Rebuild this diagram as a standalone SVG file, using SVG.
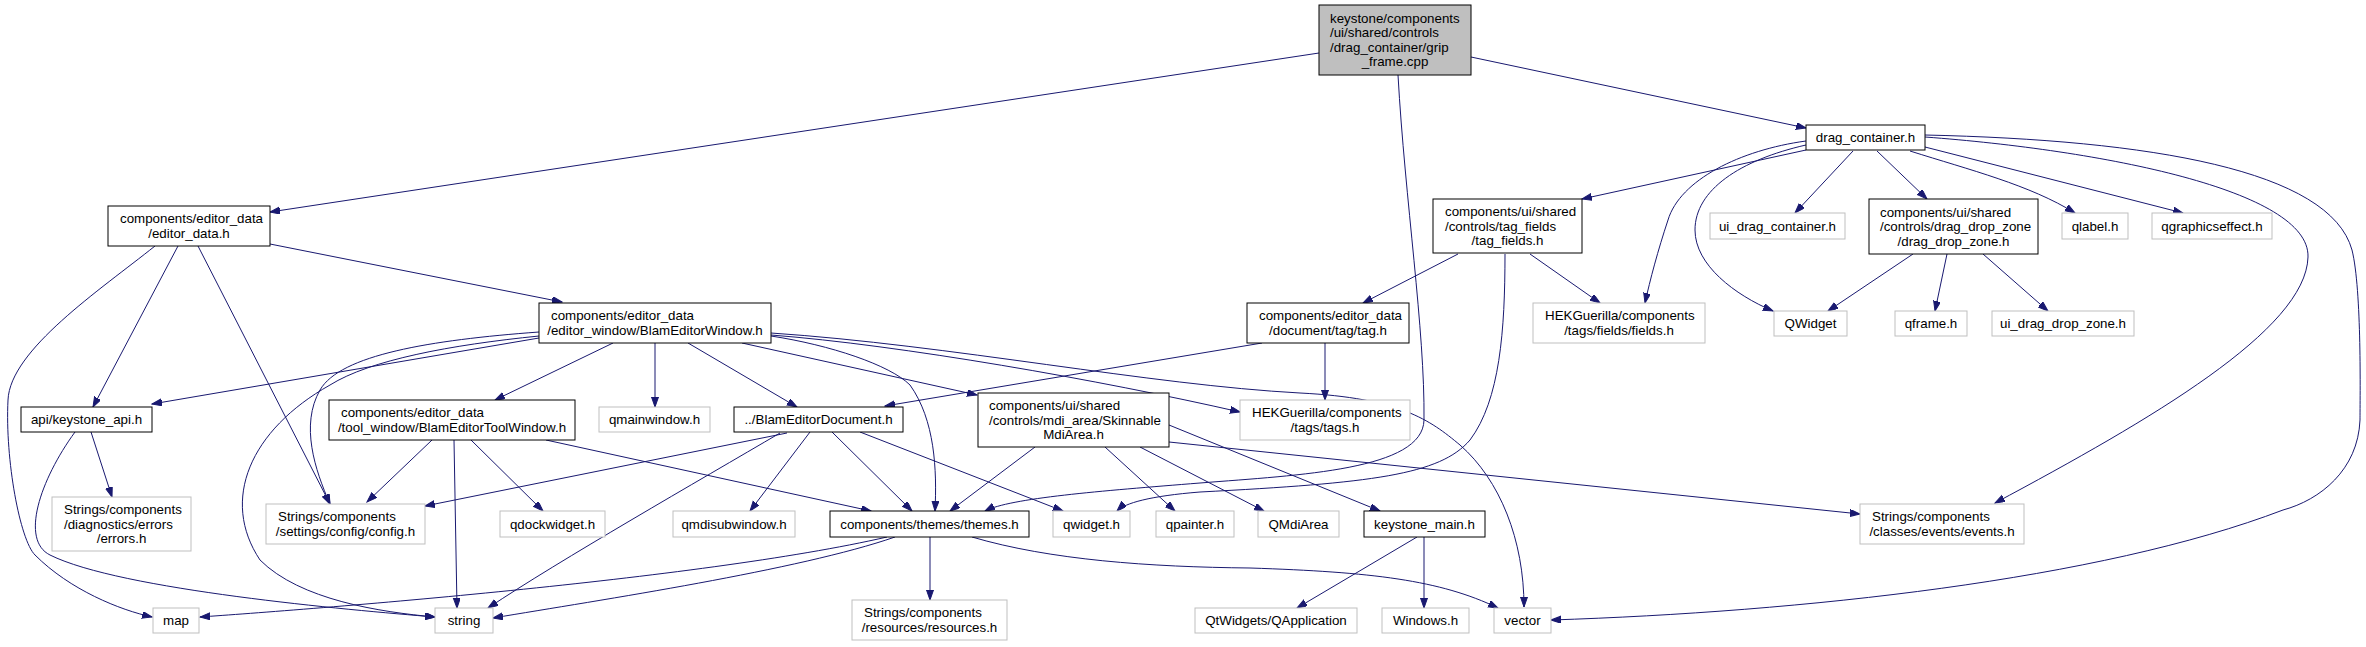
<svg xmlns="http://www.w3.org/2000/svg" width="2366" height="647" viewBox="0 0 2366 647">
<style>
text{font-family:"Liberation Sans",Arial,sans-serif;font-size:13.33px;fill:#000}
.b{fill:#fff;stroke:#000;stroke-width:1}
.g{fill:#fff;stroke:#bfbfbf;stroke-width:1}
.r{fill:#bfbfbf;stroke:#000;stroke-width:1}
.c{text-anchor:middle}
#edges path{fill:none;stroke:#191970;stroke-width:1;marker-end:url(#ah)}
</style>
<defs>
<marker id="ah" markerUnits="userSpaceOnUse" markerWidth="11" markerHeight="8" refX="10" refY="3.5" orient="auto">
<path d="M0,0 L10,3.5 L0,7 z" fill="#191970" stroke="#191970" stroke-width="1"/>
</marker>
</defs>
<rect width="2366" height="647" fill="#fff"/>
<g id="edges">
<path d="M1319,53 L270,212"/>
<path d="M1471,57 L1806,128"/>
<path d="M1398,75 C1405,200 1425,330 1424,420 C1423,470 1300,475 1200,483 C1100,491 1010,498 985,511"/>
<path d="M270,244 L562,302"/>
<path d="M178,246 L93,407"/>
<path d="M198,246 L330,504"/>
<path d="M155,246 C100,290 10,350 8,400 C5,460 20,540 35,555 C70,590 120,610 152,617"/>
<path d="M539,338 L152,404"/>
<path d="M539,332 C430,340 340,355 320,390 C300,425 315,470 330,504"/>
<path d="M539,336 C450,345 370,360 330,385 C250,430 220,500 260,560 C300,600 380,612 435,617"/>
<path d="M613,343 L495,400"/>
<path d="M655,343 L655,407"/>
<path d="M688,343 L797,407"/>
<path d="M742,343 L977,395"/>
<path d="M771,336 C830,345 890,365 910,385 C935,420 937,470 935,511"/>
<path d="M771,335 C900,345 1100,380 1240,412"/>
<path d="M771,333 C950,345 1150,385 1300,393 C1400,398 1430,420 1460,445 C1500,480 1524,540 1524,607"/>
<path d="M91,432 L112,497"/>
<path d="M75,432 C40,480 20,540 50,555 C120,590 350,610 435,617"/>
<path d="M432,440 L367,502"/>
<path d="M454,440 L457,608"/>
<path d="M471,440 L543,511"/>
<path d="M546,440 L871,511"/>
<path d="M787,433 L425,506"/>
<path d="M780,433 C700,480 560,560 488,608"/>
<path d="M810,432 L750,511"/>
<path d="M832,432 L912,511"/>
<path d="M860,432 L1063,511"/>
<path d="M1035,447 L950,511"/>
<path d="M1105,447 L1175,511"/>
<path d="M1140,447 L1264,511"/>
<path d="M1169,425 L1380,511"/>
<path d="M1169,442 L1860,514"/>
<path d="M1262,343 L885,406"/>
<path d="M1325,343 L1325,400"/>
<path d="M1458,254 L1363,303"/>
<path d="M1530,254 L1600,303"/>
<path d="M1505,254 C1505,330 1500,400 1470,440 C1440,475 1372,483 1200,492 C1150,496 1125,503 1117,511"/>
<path d="M1806,150 L1582,199"/>
<path d="M1806,141 C1740,150 1680,180 1668,220 C1658,250 1650,280 1645,303"/>
<path d="M1806,145 C1740,160 1695,190 1695,230 C1695,265 1735,295 1773,311"/>
<path d="M1853,151 L1795,213"/>
<path d="M1877,151 L1927,199"/>
<path d="M1910,151 C1970,170 2030,185 2075,213"/>
<path d="M1925,147 L2183,213"/>
<path d="M1925,137 C2100,150 2310,190 2308,257 C2306,330 2150,420 1995,503"/>
<path d="M1925,135 C2150,140 2330,170 2352,250 C2362,290 2360,400 2360,420 C2358,470 2320,500 2283,510 C2100,580 1800,612 1551,620"/>
<path d="M1913,254 L1828,311"/>
<path d="M1947,254 L1935,311"/>
<path d="M1983,254 L2048,311"/>
<path d="M887,537 C700,580 300,610 200,617"/>
<path d="M895,537 C800,570 600,600 493,618"/>
<path d="M930,537 L930,600"/>
<path d="M972,537 C1050,560 1150,567 1250,568 C1372,572 1440,580 1498,608"/>
<path d="M1417,537 L1297,608"/>
<path d="M1424,537 L1424,608"/>
</g>
<g id="root"><rect class="r" x="1319" y="5" width="152" height="70"/><text x="1330" y="22.75">keystone/components</text><text x="1330" y="37.25">/ui/shared/controls</text><text x="1330" y="51.75">/drag_container/grip</text><text class="c" x="1395" y="66.25">_frame.cpp</text></g>
<g id="drag_container"><rect class="b" x="1806" y="125" width="119" height="25"/><text class="c" x="1865.5" y="142">drag_container.h</text></g>
<g id="editor_data"><rect class="b" x="108" y="206" width="162" height="40"/><text x="120" y="223.25">components/editor_data</text><text class="c" x="189" y="237.75">/editor_data.h</text></g>
<g id="BlamEditorWindow"><rect class="b" x="539" y="303" width="232" height="40"/><text x="551" y="320.25">components/editor_data</text><text class="c" x="655" y="334.75">/editor_window/BlamEditorWindow.h</text></g>
<g id="tag_fields"><rect class="b" x="1433" y="199" width="149" height="54"/><text x="1445" y="216">components/ui/shared</text><text x="1445" y="230.5">/controls/tag_fields</text><text class="c" x="1507.5" y="245">/tag_fields.h</text></g>
<g id="ui_drag_container"><rect class="g" x="1710" y="213" width="135" height="26"/><text class="c" x="1777.5" y="230.5">ui_drag_container.h</text></g>
<g id="drag_drop_zone"><rect class="b" x="1869" y="199" width="169" height="55"/><text x="1880" y="216.5">components/ui/shared</text><text x="1880" y="231">/controls/drag_drop_zone</text><text class="c" x="1953.5" y="245.5">/drag_drop_zone.h</text></g>
<g id="qlabel"><rect class="g" x="2062" y="213" width="66" height="26"/><text class="c" x="2095" y="230.5">qlabel.h</text></g>
<g id="qgraphicseffect"><rect class="g" x="2152" y="213" width="120" height="26"/><text class="c" x="2212" y="230.5">qgraphicseffect.h</text></g>
<g id="fields"><rect class="g" x="1533" y="303" width="172" height="40"/><text x="1545" y="320.25">HEKGuerilla/components</text><text class="c" x="1619" y="334.75">/tags/fields/fields.h</text></g>
<g id="QWidget"><rect class="g" x="1774" y="311" width="73" height="25"/><text class="c" x="1810.5" y="328">QWidget</text></g>
<g id="qframe"><rect class="g" x="1895" y="311" width="72" height="25"/><text class="c" x="1931" y="328">qframe.h</text></g>
<g id="ui_drag_drop_zone"><rect class="g" x="1992" y="311" width="142" height="25"/><text class="c" x="2063" y="328">ui_drag_drop_zone.h</text></g>
<g id="tag"><rect class="b" x="1247" y="303" width="162" height="40"/><text x="1259" y="320.25">components/editor_data</text><text class="c" x="1328" y="334.75">/document/tag/tag.h</text></g>
<g id="tags"><rect class="g" x="1240" y="400" width="170" height="40"/><text x="1252" y="417.25">HEKGuerilla/components</text><text class="c" x="1325" y="431.75">/tags/tags.h</text></g>
<g id="keystone_api"><rect class="b" x="21" y="407" width="131" height="25"/><text class="c" x="86.5" y="424">api/keystone_api.h</text></g>
<g id="BlamEditorToolWindow"><rect class="b" x="329" y="400" width="246" height="40"/><text x="341" y="417.25">components/editor_data</text><text class="c" x="452" y="431.75">/tool_window/BlamEditorToolWindow.h</text></g>
<g id="qmainwindow"><rect class="g" x="599" y="407" width="111" height="25"/><text class="c" x="654.5" y="424">qmainwindow.h</text></g>
<g id="BlamEditorDocument"><rect class="b" x="734" y="407" width="169" height="25"/><text class="c" x="818.5" y="424">../BlamEditorDocument.h</text></g>
<g id="SkinnableMdiArea"><rect class="b" x="978" y="393" width="191" height="54"/><text x="989" y="410">components/ui/shared</text><text x="989" y="424.5">/controls/mdi_area/Skinnable</text><text class="c" x="1073.5" y="439">MdiArea.h</text></g>
<g id="errors"><rect class="g" x="52" y="497" width="139" height="54"/><text x="64" y="514">Strings/components</text><text x="64" y="528.5">/diagnostics/errors</text><text class="c" x="121.5" y="543">/errors.h</text></g>
<g id="config"><rect class="g" x="266" y="504" width="159" height="40"/><text x="278" y="521.25">Strings/components</text><text class="c" x="345.5" y="535.75">/settings/config/config.h</text></g>
<g id="qdockwidget"><rect class="g" x="500" y="511" width="105" height="26"/><text class="c" x="552.5" y="528.5">qdockwidget.h</text></g>
<g id="qmdisubwindow"><rect class="g" x="673" y="511" width="122" height="26"/><text class="c" x="734" y="528.5">qmdisubwindow.h</text></g>
<g id="themes"><rect class="b" x="830" y="511" width="199" height="26"/><text class="c" x="929.5" y="528.5">components/themes/themes.h</text></g>
<g id="qwidget_h"><rect class="g" x="1053" y="511" width="77" height="26"/><text class="c" x="1091.5" y="528.5">qwidget.h</text></g>
<g id="qpainter"><rect class="g" x="1156" y="511" width="78" height="26"/><text class="c" x="1195" y="528.5">qpainter.h</text></g>
<g id="QMdiArea"><rect class="g" x="1258" y="511" width="81" height="26"/><text class="c" x="1298.5" y="528.5">QMdiArea</text></g>
<g id="keystone_main"><rect class="b" x="1364" y="511" width="121" height="26"/><text class="c" x="1424.5" y="528.5">keystone_main.h</text></g>
<g id="events"><rect class="g" x="1860" y="504" width="164" height="40"/><text x="1872" y="521.25">Strings/components</text><text class="c" x="1942" y="535.75">/classes/events/events.h</text></g>
<g id="map"><rect class="g" x="153" y="608" width="46" height="25"/><text class="c" x="176" y="625">map</text></g>
<g id="string"><rect class="g" x="435" y="608" width="58" height="25"/><text class="c" x="464" y="625">string</text></g>
<g id="resources"><rect class="g" x="852" y="600" width="155" height="40"/><text x="864" y="617.25">Strings/components</text><text class="c" x="929.5" y="631.75">/resources/resources.h</text></g>
<g id="QApplication"><rect class="g" x="1195" y="608" width="162" height="25"/><text class="c" x="1276" y="625">QtWidgets/QApplication</text></g>
<g id="Windows"><rect class="g" x="1382" y="608" width="87" height="25"/><text class="c" x="1425.5" y="625">Windows.h</text></g>
<g id="vector"><rect class="g" x="1494" y="608" width="57" height="25"/><text class="c" x="1522.5" y="625">vector</text></g>
</svg>
